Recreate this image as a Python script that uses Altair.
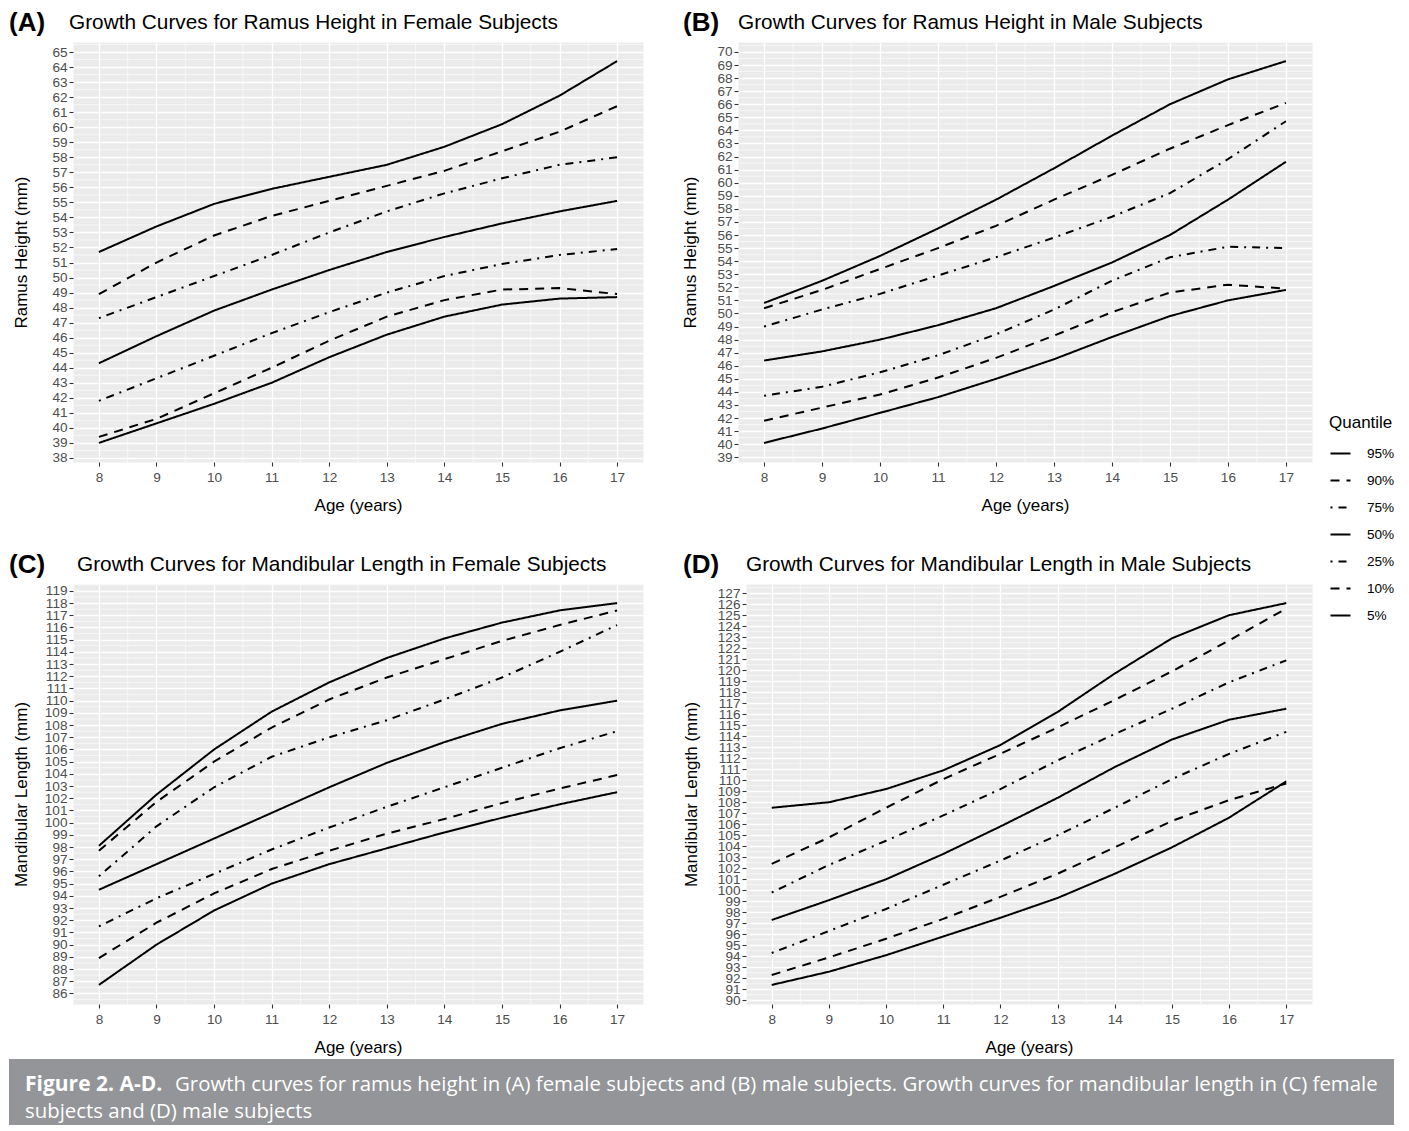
import math
import altair as alt
import pandas as pd

AGES = [8, 9, 10, 11, 12, 13, 14, 15, 16, 17]
QUANTILES = ["95%", "90%", "75%", "50%", "25%", "10%", "5%"]

# (A) Ramus height, female
RH_F_95 = [51.7, 53.4, 54.9, 55.9, 56.7, 57.5, 58.7, 60.2, 62.1, 64.4]
RH_F_90 = [48.9, 51.0, 52.8, 54.1, 55.1, 56.1, 57.1, 58.4, 59.7, 61.4]
RH_F_75 = [47.3, 48.7, 50.1, 51.5, 53.0, 54.4, 55.6, 56.6, 57.5, 58.0]
RH_F_50 = [44.3, 46.1, 47.8, 49.2, 50.5, 51.7, 52.7, 53.6, 54.4, 55.1]
RH_F_25 = [41.8, 43.3, 44.8, 46.3, 47.7, 49.0, 50.1, 50.9, 51.5, 51.9]
RH_F_10 = [39.4, 40.6, 42.3, 44.0, 45.8, 47.4, 48.5, 49.2, 49.3, 48.9]
RH_F_5 = [39.0, 40.3, 41.6, 43.0, 44.7, 46.2, 47.4, 48.2, 48.6, 48.7]

# (B) Ramus height, male
RH_M_95 = [50.8, 52.5, 54.4, 56.5, 58.7, 61.1, 63.6, 66.0, 67.9, 69.3]
RH_M_90 = [50.4, 51.8, 53.4, 55.0, 56.7, 58.7, 60.6, 62.6, 64.4, 66.1]
RH_M_75 = [49.0, 50.3, 51.5, 52.9, 54.3, 55.8, 57.4, 59.2, 61.8, 64.7]
RH_M_50 = [46.4, 47.1, 48.0, 49.1, 50.4, 52.1, 53.9, 56.0, 58.7, 61.6]
RH_M_25 = [43.7, 44.4, 45.5, 46.8, 48.4, 50.3, 52.5, 54.3, 55.1, 55.0]
RH_M_10 = [41.8, 42.8, 43.8, 45.1, 46.6, 48.3, 50.1, 51.6, 52.2, 51.9]
RH_M_5 = [40.1, 41.2, 42.4, 43.6, 45.0, 46.5, 48.2, 49.8, 51.0, 51.8]

# (C) Mandibular length, female
ML_F_95 = [98.1, 102.3, 106.0, 109.1, 111.5, 113.5, 115.1, 116.4, 117.4, 118.0]
ML_F_90 = [97.7, 101.7, 105.0, 107.8, 110.1, 111.9, 113.4, 114.9, 116.2, 117.4]
ML_F_75 = [95.6, 99.7, 102.9, 105.4, 107.0, 108.4, 110.1, 111.9, 114.0, 116.2]
ML_F_50 = [94.5, 96.6, 98.7, 100.8, 102.9, 104.9, 106.6, 108.1, 109.2, 110.0]
ML_F_25 = [91.5, 93.8, 95.8, 97.8, 99.6, 101.3, 102.9, 104.5, 106.1, 107.5]
ML_F_10 = [88.9, 91.8, 94.2, 96.2, 97.7, 99.1, 100.3, 101.6, 102.8, 103.9]
ML_F_5 = [86.7, 90.0, 92.8, 95.0, 96.6, 97.9, 99.2, 100.4, 101.5, 102.5]

# (D) Mandibular length, male
ML_M_95 = [107.5, 108.0, 109.2, 110.9, 113.2, 116.2, 119.7, 122.9, 125.0, 126.1]
ML_M_90 = [102.4, 104.8, 107.5, 110.1, 112.4, 114.8, 117.3, 119.9, 122.7, 125.6]
ML_M_75 = [99.8, 102.3, 104.5, 106.8, 109.2, 111.8, 114.2, 116.5, 118.9, 120.9]
ML_M_50 = [97.3, 99.1, 101.0, 103.3, 105.8, 108.4, 111.2, 113.7, 115.5, 116.5]
ML_M_25 = [94.3, 96.3, 98.3, 100.5, 102.7, 105.0, 107.5, 110.1, 112.4, 114.4]
ML_M_10 = [92.3, 93.9, 95.6, 97.4, 99.4, 101.5, 103.9, 106.3, 108.2, 109.7]
ML_M_5 = [91.4, 92.6, 94.1, 95.8, 97.5, 99.3, 101.5, 103.9, 106.6, 109.9]

TAGS = ["(A)", "(B)", "(C)", "(D)"]
TITLES = [
    "Growth Curves for Ramus Height in Female Subjects",
    "Growth Curves for Ramus Height in Male Subjects",
    "Growth Curves for Mandibular Length in Female Subjects",
    "Growth Curves for Mandibular Length in Male Subjects",
]
Y_TITLES = ["Ramus Height (mm)", "Ramus Height (mm)",
            "Mandibular Length (mm)", "Mandibular Length (mm)"]
X_TITLE = "Age (years)"
LEGEND_TITLE = "Quantile"
CAPTION_BOLD = "Figure 2. A-D."
CAPTION_LINE1 = ("Growth curves for ramus height in (A) female subjects and (B) male subjects. "
                 "Growth curves for mandibular length in (C) female")
CAPTION_LINE2 = "subjects and (D) male subjects"

FONT = "Liberation Sans"
CAP_FONT = "Open Sans"
DASHES = [[1, 0], [9, 7], [2, 6, 8, 6], [1, 0], [2, 6, 8, 6], [9, 7], [1, 0]]


def build_panel(series, tag, title, ytitle, width, tag_dx, ytitle_pad, title_dx):
    rows = []
    for q, vals in zip(QUANTILES, series):
        for a, v in zip(AGES, vals):
            rows.append({"age": a, "q": q, "v": v})
    df = pd.DataFrame(rows)
    allv = [v for s in series for v in s]
    lo, hi = min(allv), max(allv)
    pad = 0.05 * (hi - lo)
    ydom = [lo - pad, hi + pad]
    xpad = 0.05 * (AGES[-1] - AGES[0])
    xdom = [AGES[0] - xpad, AGES[-1] + xpad]
    yticks = list(range(math.ceil(ydom[0]), math.floor(ydom[1]) + 1))
    minor_y = [t + 0.5 for t in range(math.floor(ydom[0]), math.floor(ydom[1]) + 1)
               if ydom[0] <= t + 0.5 <= ydom[1]]
    minor_x = [a + 0.5 for a in AGES[:-1]]

    xs = alt.Scale(domain=xdom, nice=False, zero=False)
    ys = alt.Scale(domain=ydom, nice=False, zero=False)
    xaxis = alt.Axis(values=AGES, title=X_TITLE)
    yaxis = alt.Axis(values=yticks, title=ytitle, titlePadding=ytitle_pad)

    mx = alt.Chart(pd.DataFrame({"age": minor_x})).mark_rule(
        color="white", strokeWidth=0.6).encode(x=alt.X("age:Q", scale=xs, axis=xaxis))
    my = alt.Chart(pd.DataFrame({"v": minor_y})).mark_rule(
        color="white", strokeWidth=0.6).encode(y=alt.Y("v:Q", scale=ys, axis=yaxis))
    lines = alt.Chart(df).mark_line(color="black", strokeWidth=2).encode(
        x=alt.X("age:Q", scale=xs, axis=xaxis),
        y=alt.Y("v:Q", scale=ys, axis=yaxis),
        strokeDash=alt.StrokeDash(
            "q:N",
            scale=alt.Scale(domain=QUANTILES, range=DASHES),
            legend=alt.Legend(title=LEGEND_TITLE),
        ),
    )
    tag_l = alt.Chart(alt.Data(values=[{"t": tag}])).mark_text(
        align="left", baseline="alphabetic", font=FONT, fontSize=26,
        fontWeight="bold", color="black",
    ).encode(text="t:N", x=alt.value(tag_dx), y=alt.value(-11))
    title_l = alt.Chart(alt.Data(values=[{"t": title}])).mark_text(
        align="left", baseline="alphabetic", font=FONT, fontSize=20.8, color="black",
    ).encode(text="t:N", x=alt.value(title_dx), y=alt.value(-13))
    return alt.layer(mx, my, lines, tag_l, title_l).properties(width=width, height=420)


pA = build_panel([RH_F_95, RH_F_90, RH_F_75, RH_F_50, RH_F_25, RH_F_10, RH_F_5],
                 TAGS[0], TITLES[0], Y_TITLES[0], 570, -64, 21, -4)
pB = build_panel([RH_M_95, RH_M_90, RH_M_75, RH_M_50, RH_M_25, RH_M_10, RH_M_5],
                 TAGS[1], TITLES[1], Y_TITLES[1], 574, -55, 17, 0)
pC = build_panel([ML_F_95, ML_F_90, ML_F_75, ML_F_50, ML_F_25, ML_F_10, ML_F_5],
                 TAGS[2], TITLES[2], Y_TITLES[2], 570, -64, 14, 4)
pD = build_panel([ML_M_95, ML_M_90, ML_M_75, ML_M_50, ML_M_25, ML_M_10, ML_M_5],
                 TAGS[3], TITLES[3], Y_TITLES[3], 566, -63, 17, 0)

# caption box (figure footer) spanning the whole figure width
cap_box = alt.Chart(alt.Data(values=[{"k": 1}])).mark_rect(
    color="#939598").encode(
    x=alt.value(-64), x2=alt.value(1321), y=alt.value(0), y2=alt.value(66))
cap_bold = alt.Chart(alt.Data(values=[{"t": CAPTION_BOLD}])).mark_text(
    align="left", baseline="alphabetic", font=CAP_FONT, fontSize=21,
    fontWeight="bold", color="white").encode(text="t:N", x=alt.value(-48), y=alt.value(32))
cap_l1 = alt.Chart(alt.Data(values=[{"t": CAPTION_LINE1}])).mark_text(
    align="left", baseline="alphabetic", font=CAP_FONT, fontSize=20.4,
    color="white").encode(text="t:N", x=alt.value(102), y=alt.value(32))
cap_l2 = alt.Chart(alt.Data(values=[{"t": CAPTION_LINE2}])).mark_text(
    align="left", baseline="alphabetic", font=CAP_FONT, fontSize=20.4,
    color="white").encode(text="t:N", x=alt.value(-48), y=alt.value(59))
caption = alt.layer(cap_box, cap_bold, cap_l1, cap_l2).properties(
    width=1300, height=66,
    view=alt.ViewBackground(fill="transparent", stroke="transparent"))

grid = alt.concat(
    pA, pB, pC, pD, columns=2, align="none",
    spacing=alt.RowColnumber(row=36, column=37),
)

chart = alt.vconcat(grid, caption, spacing=1).properties(
    padding={"left": 0, "top": 1, "right": 0, "bottom": 0},
    background="white",
).configure_view(
    fill="#EBEBEB", stroke="transparent"
).configure_axis(
    domain=False, grid=True, gridColor="white", gridWidth=1.3, gridOpacity=1,
    tickColor="#333333", tickSize=4, tickWidth=1.1,
    labelColor="#4D4D4D", labelFont=FONT, labelFontSize=13.6,
    labelOverlap=False, labelFlush=False,
    titleFont=FONT, titleFontSize=17, titleFontWeight="normal", titleColor="black",
).configure_axisX(
    labelPadding=4, titlePadding=14,
).configure_axisY(
    labelPadding=2,
).configure_legend(
    orient="none", legendX=1256, legendY=373,
    titleFont=FONT, titleFontSize=17, titleFontWeight="normal", titleColor="black",
    titlePadding=10, labelFont=FONT, labelFontSize=13.6, labelColor="black",
    labelOffset=15, symbolType="stroke", symbolSize=400, symbolStrokeWidth=2.2,
    symbolStrokeColor="black", rowPadding=8, padding=0,
)

chart.save("out.html", embed_options={"renderer": "svg", "actions": False})
